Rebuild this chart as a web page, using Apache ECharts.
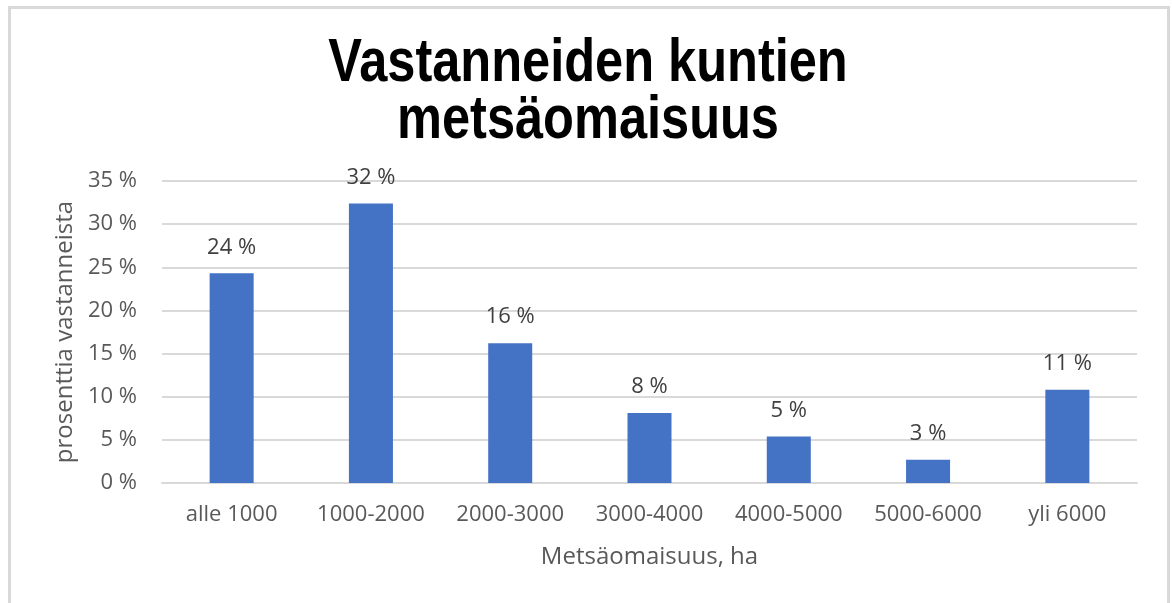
<!DOCTYPE html>
<html>
<head>
<meta charset="utf-8">
<script src="https://cdn.jsdelivr.net/npm/echarts@6/dist/echarts.min.js"></script>
<style>
  html, body { margin: 0; padding: 0; background: #fff; }
  #frame { position: absolute; left: 8px; top: 6px; width: 1156px; height: 620px;
           border: 3px solid #d9d9d9; border-bottom: none; box-sizing: content-box; }
  #chart { position: absolute; left: 0; top: 0; width: 1172px; height: 603px; }
</style>
</head>
<body>
<div id="frame"></div>
<div id="chart"></div>
<script>
const titleText = 'Vastanneiden kuntien\nmetsäomaisuus';
const categories = ['alle 1000', '1000-2000', '2000-3000', '3000-4000', '4000-5000', '5000-6000', 'yli 6000'];
const shares = [24.3, 32.4, 16.2, 8.1, 5.4, 2.7, 10.8];
const xName = 'Metsäomaisuus, ha';
const yName = 'prosenttia vastanneista';

const chart = echarts.init(document.getElementById('chart'), null, { renderer: 'canvas' });
chart.setOption({
  backgroundColor: 'transparent',
  animation: false,
  graphic: [{
    type: 'text',
    x: 588,
    y: 35,
    scaleX: 0.815,
    style: {
      text: titleText,
      align: 'center',
      verticalAlign: 'top',
      fontFamily: '"Liberation Sans", Arial, sans-serif',
      fontWeight: 'bold',
      fontSize: 62,
      lineHeight: 57,
      fill: '#000'
    }
  }],
  grid: { left: 162, right: 35, top: 181, bottom: 120, containLabel: false },
  xAxis: {
    type: 'category',
    data: categories,
    name: xName,
    nameLocation: 'middle',
    nameGap: 62,
    nameTextStyle: { fontFamily: '"Open Sans", sans-serif', fontSize: 24, color: '#595959' },
    axisLine: { show: true, lineStyle: { color: '#d9d9d9', width: 2 } },
    axisTick: { show: false },
    axisLabel: { interval: 0, fontFamily: '"Open Sans", sans-serif', fontSize: 22, color: '#595959', margin: 21 }
  },
  yAxis: {
    type: 'value',
    min: 0,
    max: 35,
    interval: 5,
    name: yName,
    nameLocation: 'middle',
    nameGap: 84,
    nameTextStyle: { fontFamily: '"Open Sans", sans-serif', fontSize: 24, color: '#595959' },
    axisLine: { show: false },
    axisTick: { show: false },
    splitLine: { lineStyle: { color: '#d9d9d9', width: 2 } },
    axisLabel: {
      fontFamily: '"Open Sans", sans-serif', fontSize: 22, color: '#595959', margin: 25,
      formatter: v => v + ' %'
    }
  },
  series: [{
    type: 'bar',
    data: shares,
    barWidth: '31.6%',
    itemStyle: { color: '#4472c4' },
    label: {
      show: true,
      position: 'top',
      distance: 15,
      fontFamily: '"Open Sans", sans-serif',
      fontSize: 22,
      color: '#404040',
      formatter: p => Math.round(p.value) + ' %'
    }
  }]
});
</script>
</body>
</html>
